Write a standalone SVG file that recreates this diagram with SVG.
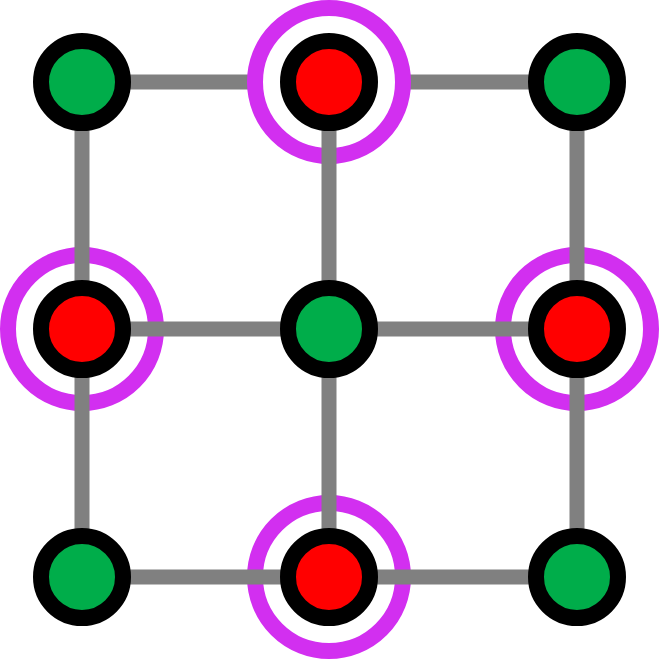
<svg xmlns="http://www.w3.org/2000/svg" width="664" height="664" viewBox="0 0 664 664">
<style>
.e{stroke:#808080;stroke-width:15}
.ring{fill:#fff;stroke:#d22ff0;stroke-width:16}
.n{stroke:#000;stroke-width:16}
.g{fill:#00ad4a}.r{fill:#ff0000}
</style>
<rect width="664" height="664" fill="#fff"/>
<g id="connectors">
<line class="e" x1="82" y1="82" x2="577" y2="82"/>
</g>
<g id="rings">
<circle class="ring" cx="329" cy="82" r="74"/>
<circle class="ring" cx="82" cy="329" r="74"/>
<circle class="ring" cx="577" cy="329" r="74"/>
<circle class="ring" cx="329" cy="577" r="74"/>
</g>
<g id="connectors2">
<line class="e" x1="82" y1="329" x2="577" y2="329"/>
<line class="e" x1="82" y1="577" x2="577" y2="577"/>
<line class="e" x1="82" y1="82" x2="82" y2="577"/>
<line class="e" x1="329" y1="82" x2="329" y2="577"/>
<line class="e" x1="577" y1="82" x2="577" y2="577"/>
</g>
<g id="n1"><circle class="n g" cx="82" cy="82" r="41"/></g>
<g id="n2"><circle class="n r" cx="329" cy="82" r="41"/></g>
<g id="n3"><circle class="n g" cx="577" cy="82" r="41"/></g>
<g id="n4"><circle class="n r" cx="82" cy="329" r="41"/></g>
<g id="n5"><circle class="n g" cx="329" cy="329" r="41"/></g>
<g id="n6"><circle class="n r" cx="577" cy="329" r="41"/></g>
<g id="n7"><circle class="n g" cx="82" cy="577" r="41"/></g>
<g id="n8"><circle class="n r" cx="329" cy="577" r="41"/></g>
<g id="n9"><circle class="n g" cx="577" cy="577" r="41"/></g>
</svg>
